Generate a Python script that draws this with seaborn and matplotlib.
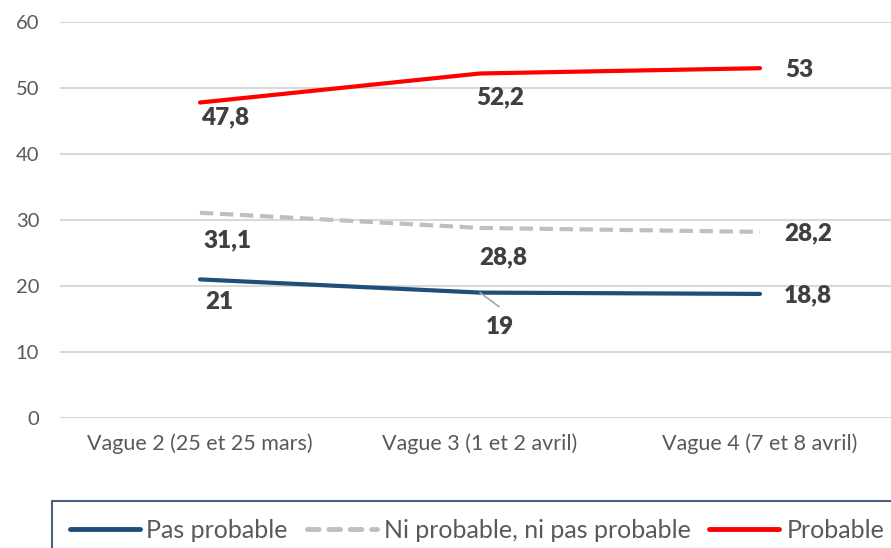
import matplotlib
matplotlib.use("Agg")
import matplotlib.pyplot as plt
import seaborn as sns
import pandas as pd
from matplotlib.lines import Line2D

categories = ["Vague 2 (25 et 25 mars)", "Vague 3 (1 et 2 avril)", "Vague 4 (7 et 8 avril)"]
pas_probable = [21, 19, 18.8]
ni_probable = [31.1, 28.8, 28.2]
probable = [47.8, 52.2, 53]
series_names = ["Pas probable", "Ni probable, ni pas probable", "Probable"]
y_ticks = [0, 10, 20, 30, 40, 50, 60]

sns.set_theme(style="white")
plt.rcParams['font.family'] = ['Lato', 'DejaVu Sans']

rows = []
for name, vals in zip(series_names, [pas_probable, ni_probable, probable]):
    for i, v in enumerate(vals):
        rows.append({"x": i, "value": v, "serie": name})
df = pd.DataFrame(rows)

W, H = 891, 548
fig = plt.figure(figsize=(W / 100, H / 100), dpi=100)
ax = fig.add_axes([60 / W, 1 - 418 / H, 840 / W, 396 / H])

colors = {"Pas probable": "#1F4E79", "Ni probable, ni pas probable": "#BFBFBF", "Probable": "#FF0000"}
styles = {"Pas probable": "", "Ni probable, ni pas probable": (3.2, 1.6), "Probable": ""}

sns.lineplot(data=df, x="x", y="value", hue="serie", style="serie",
             palette=colors, dashes=styles, linewidth=3, ax=ax, legend=False,
             zorder=3)

ax.set_xlim(-0.5, 2.5)
ax.set_ylim(0, 60)
ax.set_yticks(y_ticks)
ax.set_yticklabels([str(t) for t in y_ticks], fontsize=14.5, color="#595959")
ax.set_xticks(range(len(categories)))
ax.set_xticklabels(categories, fontsize=15.5, color="#595959")
ax.tick_params(axis="both", length=0)
ax.tick_params(axis="y", pad=15)
ax.tick_params(axis="x", pad=11)
ax.yaxis.grid(True, color="#D9D9D9", linewidth=1.5)
ax.xaxis.grid(False)
for s in ax.spines.values():
    s.set_visible(False)
ax.set_xlabel("")
ax.set_ylabel("")

def fmt(v):
    return (f"{v:g}").replace(".", ",")

label_color = "#404040"
offsets = {
    "Pas probable": [(5, -23, "left"), (20, -34, "center"), (24, -1, "left")],
    "Ni probable, ni pas probable": [(3, -28, "left"), (23, -29, "center"), (24, -1, "left")],
    "Probable": [(1, -15, "left"), (-4, -24, "left"), (25, -2, "left")],
}
for name, vals in zip(series_names, [pas_probable, ni_probable, probable]):
    for i, v in enumerate(vals):
        dx, dy, ha = offsets[name][i]
        ax.annotate(fmt(v), xy=(i, v), xytext=(dx, dy), textcoords="offset pixels",
                    ha=ha, va="center", fontsize=17.5, fontweight=800, color=label_color)

# leader line for the "19" label
ax.annotate("", xy=(1, pas_probable[1]), xytext=(19, -14), textcoords="offset pixels",
            arrowprops=dict(arrowstyle="-", color="#A6A6A6", lw=1.2, shrinkA=0, shrinkB=0))

handles = [
    Line2D([], [], color=colors["Pas probable"], lw=3.5, solid_capstyle="round"),
    Line2D([], [], color=colors["Ni probable, ni pas probable"], lw=3.5,
           dashes=(2.4, 2.0), dash_capstyle="round"),
    Line2D([], [], color=colors["Probable"], lw=3.5, solid_capstyle="round"),
]
leg = fig.legend(handles, series_names, loc="upper left",
                 bbox_to_anchor=(52 / W, 1 - 501 / H), ncol=3, frameon=True,
                 fontsize=18, handlelength=2.8, handletextpad=0.28, columnspacing=0.75,
                 borderpad=0.7, borderaxespad=0, fancybox=False)
leg.get_frame().set_edgecolor("#1F3864")
leg.get_frame().set_linewidth(1.5)
for t in leg.get_texts():
    t.set_color("#595959")

fig.savefig("out.png", dpi=100)
